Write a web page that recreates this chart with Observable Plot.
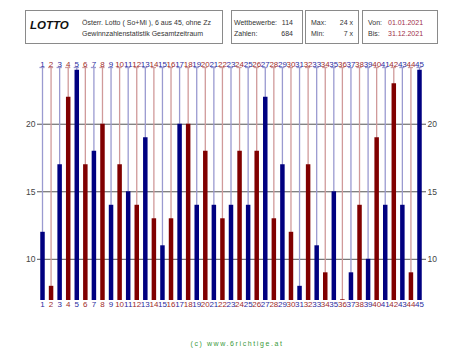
<!DOCTYPE html>
<html>
<head>
<meta charset="utf-8">
<script src="https://cdn.jsdelivr.net/npm/d3@7"></script>
<script src="https://cdn.jsdelivr.net/npm/@observablehq/plot@0.6"></script>
<style>
  html, body { margin: 0; padding: 0; background: #fff; }
  body { width: 474px; height: 355px; position: relative; overflow: hidden; font-family: "Liberation Sans", Arial, sans-serif; }
  #chart { position: absolute; left: 0; top: 0; }
  .box { position: absolute; border: 1px solid #8a8a8a; box-sizing: border-box; background: #fff; }
  .t { position: absolute; font-size: 7px; color: #333; white-space: nowrap; line-height: 1; }
  .r { text-align: right; }
  .red { color: #a0304a; }
  #footer { position: absolute; left: 0; width: 474px; top: 340px; text-align: center; font-size: 7px; letter-spacing: 1.6px; color: #3a9a3a; }
</style>
</head>
<body>
<div id="chart"></div>
<div class="box" style="left:25px;top:10px;width:198px;height:34px;"></div>
<div class="t" style="left:30px;top:20px;font-size:11.5px;font-weight:bold;font-style:italic;color:#111;">LOTTO</div>
<div class="t" style="left:82px;top:19px;">Österr. Lotto ( So+Mi ), 6 aus 45, ohne Zz</div>
<div class="t" style="left:82px;top:30px;">Gewinnzahlenstatistik Gesamtzeitraum</div>

<div class="box" style="left:231px;top:10px;width:72px;height:34px;"></div>
<div class="t" style="left:234px;top:19px;">Wettbewerbe:</div>
<div class="t r" style="left:270px;width:23px;top:19px;" id="nComp"></div>
<div class="t" style="left:234px;top:30px;">Zahlen:</div>
<div class="t r" style="left:270px;width:23px;top:30px;" id="nNums"></div>

<div class="box" style="left:305px;top:10px;width:54px;height:34px;"></div>
<div class="t" style="left:311px;top:19px;">Max:</div>
<div class="t r" style="left:330px;width:23px;top:19px;" id="vMax"></div>
<div class="t" style="left:311px;top:30px;">Min:</div>
<div class="t r" style="left:330px;width:23px;top:30px;" id="vMin"></div>

<div class="box" style="left:362px;top:10px;width:76px;height:34px;"></div>
<div class="t" style="left:368px;top:19px;">Von:</div>
<div class="t red" style="left:388px;top:19px;" id="dFrom"></div>
<div class="t" style="left:368px;top:30px;">Bis:</div>
<div class="t red" style="left:388px;top:30px;" id="dTo"></div>

<div id="footer">(c) www.6richtige.at</div>

<script>
// ---- data ----
const numbers = d3.range(1, 46);
const counts = [12, 8, 17, 22, 24, 17, 18, 20, 14, 17,
                15, 14, 19, 13, 11, 13, 20, 20, 14, 18,
                14, 13, 14, 18, 14, 18, 22, 13, 17, 12,
                8, 17, 11, 9, 15, 7, 9, 14, 10, 19,
                14, 23, 14, 9, 24];
const yTicks = [10, 15, 20];
const competitions = 114;
const dateFrom = "01.01.2021";
const dateTo = "31.12.2021";

const data = numbers.map((n, i) => ({n, v: counts[i], odd: n % 2 === 1}));
const total = d3.sum(counts);
const vmax = d3.max(counts), vmin = d3.min(counts);

document.getElementById("nComp").textContent = competitions;
document.getElementById("nNums").textContent = total;
document.getElementById("vMax").textContent = vmax + " x";
document.getElementById("vMin").textContent = vmin + " x";
document.getElementById("dFrom").textContent = dateFrom;
document.getElementById("dTo").textContent = dateTo;

const yLo = vmin - 0.05, yHi = vmax + 0.2;

const barColor = d => d.odd ? "#000080" : "#800000";
const lineColor = d => d.odd ? "#9a9ad0" : "#d09a9a";
const labelColor = d => d.odd ? "#2a2aa0" : "#a02a2a";

const chart = Plot.plot({
  width: 474,
  height: 355,
  marginTop: 67,
  marginBottom: 55,
  marginLeft: 42,
  marginRight: 55,
  style: {fontFamily: "Liberation Sans, Arial, sans-serif", background: "transparent"},
  x: {type: "linear", domain: [1, 45], axis: null},
  y: {domain: [yLo, yHi], axis: null},
  marks: [
    Plot.gridY(yTicks, {stroke: "#555", strokeOpacity: 1, strokeWidth: 1}),
    Plot.axisY(yTicks, {anchor: "left", label: null, tickSize: 5, tickPadding: 2, fontSize: 8.5, stroke: "#555", color: "#444"}),
    Plot.axisY(yTicks, {anchor: "right", label: null, tickSize: 6, tickPadding: 2, fontSize: 8.5, stroke: "#555", color: "#444"}),
    Plot.ruleX(data, {x: "n", y1: yLo, y2: yHi, stroke: lineColor, strokeWidth: 1.3}),
    Plot.ruleY(data, {y: yHi, x1: d => d.n - 0.3, x2: d => d.n + 0.3, stroke: lineColor, strokeWidth: 1.3}),
    Plot.ruleX(data, {x: "n", y1: yLo, y2: "v", stroke: barColor, strokeWidth: 4.5}),
    Plot.text(data, {x: "n", text: d => String(d.n), frameAnchor: "top", dy: -6, fill: labelColor, fontSize: 8}),
    Plot.text(data, {x: "n", text: d => String(d.n), frameAnchor: "bottom", dy: 6, fill: labelColor, fontSize: 8})
  ]
});
document.getElementById("chart").appendChild(chart);
</script>
</body>
</html>
